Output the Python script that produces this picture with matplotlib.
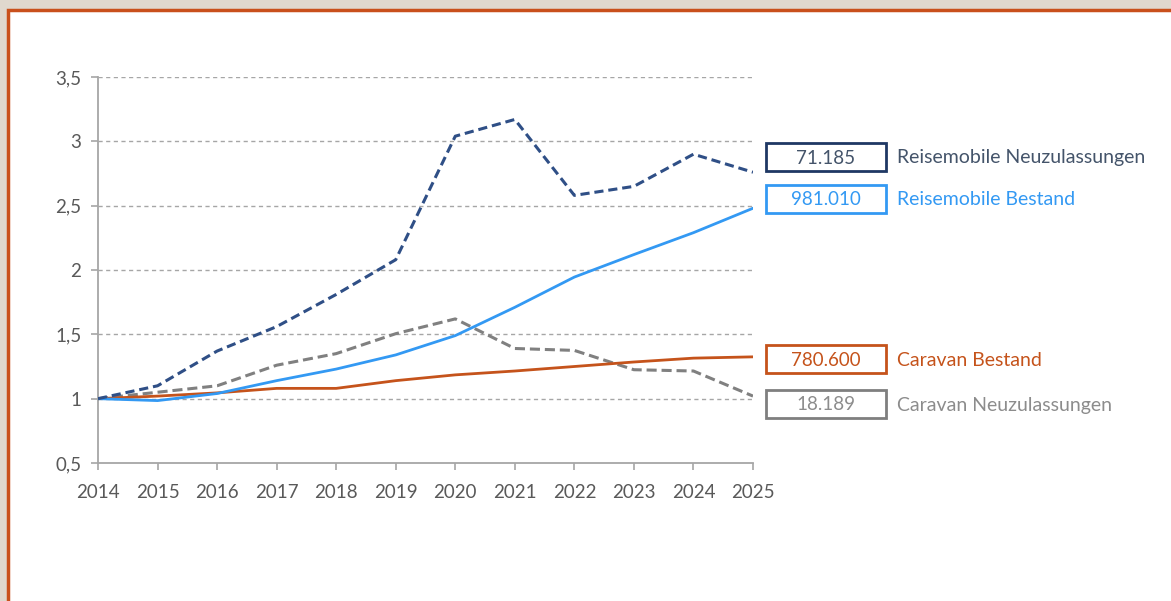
import matplotlib.pyplot as plt
from matplotlib.patches import Rectangle
from matplotlib.ticker import FuncFormatter

plt.rcParams['font.family'] = ['Lato', 'DejaVu Sans']

years = list(range(2014, 2026))

# index values (2014 = 1)
rm_neu = [1.0, 1.10, 1.37, 1.56, 1.81, 2.08, 3.04, 3.17, 2.58, 2.65, 2.90, 2.76]
rm_bestand = [1.0, 0.985, 1.04, 1.14, 1.23, 1.34, 1.49, 1.71, 1.945, 2.12, 2.29, 2.48]
cv_bestand = [1.0, 1.02, 1.045, 1.08, 1.08, 1.14, 1.185, 1.215, 1.25, 1.285, 1.315, 1.325]
cv_neu = [1.0, 1.05, 1.10, 1.26, 1.35, 1.505, 1.62, 1.39, 1.375, 1.225, 1.215, 1.02]

labels = ['Reisemobile Neuzulassungen', 'Reisemobile Bestand',
          'Caravan Bestand', 'Caravan Neuzulassungen']
box_values = ['71.185', '981.010', '780.600', '18.189']

c_navy = '#2F4F86'
c_blue = '#3399F3'
c_orange = '#C5531B'
c_gray = '#808080'

W, H = 1171, 601
fig = plt.figure(figsize=(W / 100, H / 100), dpi=100)
fig.patch.set_facecolor('#E0D8CE')

# white panel with orange frame (behind the axes)
fig.patches.append(Rectangle((8 / W, -0.05), 1.1, 1 - 10 / H + 0.05,
                             transform=fig.transFigure, facecolor='white',
                             edgecolor='#C9501C', linewidth=2.5, zorder=-5))

ax = fig.add_axes([98 / W, 1 - 463 / H, (753 - 98) / W, (463 - 77) / H])
ax.set_facecolor('none')
ax.set_zorder(2)

ax.plot(years, cv_neu, color=c_gray, lw=2.2, ls=(0, (3.3, 1.6)), zorder=3)
ax.plot(years, cv_bestand, color=c_orange, lw=2.0, zorder=4)
ax.plot(years, rm_bestand, color=c_blue, lw=2.0, zorder=5)
ax.plot(years, rm_neu, color=c_navy, lw=2.2, ls=(0, (3, 1.6)), zorder=6)

ax.set_xlim(2014, 2025)
ax.set_ylim(0.5, 3.5)
ax.set_xticks(years)
ax.set_yticks([0.5, 1, 1.5, 2, 2.5, 3, 3.5])
ax.yaxis.set_major_formatter(FuncFormatter(lambda v, p: ('%g' % v).replace('.', ',')))

for y in [1, 1.5, 2, 2.5, 3, 3.5]:
    ax.axhline(y, color='#A6A6A6', lw=1.0, ls=(0, (3, 2.5)), zorder=1)

for s in ['top', 'right']:
    ax.spines[s].set_visible(False)
for s in ['left', 'bottom']:
    ax.spines[s].set_color('#A6A6A6')
    ax.spines[s].set_linewidth(1.3)
ax.tick_params(axis='both', colors='#A6A6A6', length=5, width=1.2,
               labelcolor='#595959', labelsize=13.5)
ax.tick_params(axis='y', pad=7)
ax.tick_params(axis='x', pad=10)

# value boxes + labels on the right
box_edge = ['#1F3864', c_blue, c_orange, '#7F7F7F']
text_cols = ['#44546A', c_blue, c_orange, '#8C8C8C']
label_cols = ['#44546A', c_blue, c_orange, '#8C8C8C']
box_y = [157, 199, 359, 404]
for val, lab, by, ec, tc, lc in zip(box_values, labels, box_y, box_edge, text_cols, label_cols):
    fig.patches.append(Rectangle((766 / W, 1 - (by + 14) / H), 120 / W, 28 / H,
                                 transform=fig.transFigure, facecolor='white',
                                 edgecolor=ec, linewidth=2.0, zorder=2))
    fig.text(826 / W, 1 - (by + 1) / H, val, ha='center', va='center',
             color=tc, fontsize=13.5, zorder=3)
    fig.text(897 / W, 1 - (by + 1) / H, lab, ha='left', va='center',
             color=lc, fontsize=14, zorder=3)

fig.savefig('out.png', dpi=100, facecolor=fig.get_facecolor())
